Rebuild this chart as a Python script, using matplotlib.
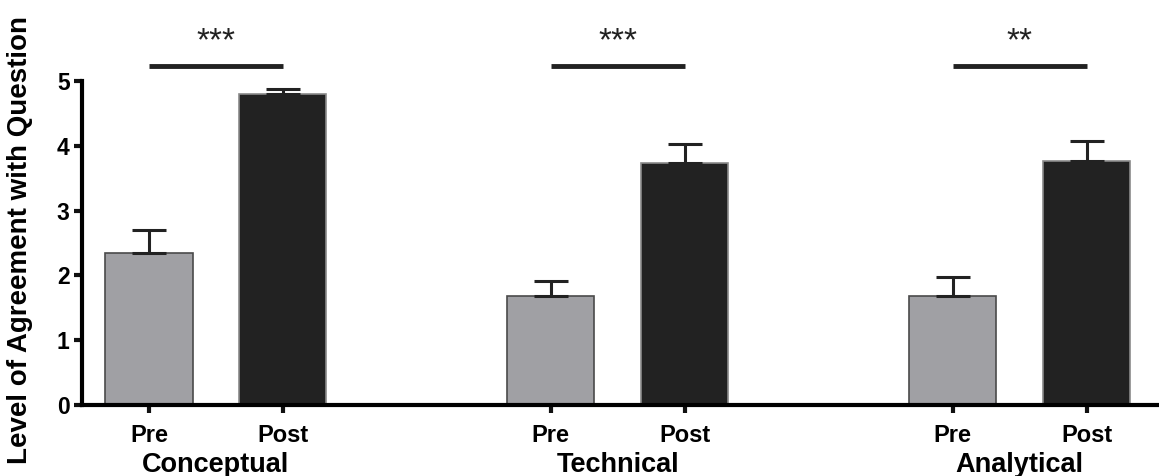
import matplotlib.pyplot as plt

plt.rcParams['font.family'] = ['Liberation Sans', 'DejaVu Sans']

groups = ["Conceptual", "Technical", "Analytical"]
phases = ["Pre", "Post"]
pre_means = [2.35, 1.68, 1.68]
pre_err = [0.35, 0.23, 0.30]
post_means = [4.80, 3.74, 3.77]
post_err = [0.08, 0.29, 0.30]
stars = ["***", "***", "**"]

pre_x = [0, 3, 6]
post_x = [1, 4, 7]

fig = plt.figure(figsize=(11.59, 4.76), dpi=100)
ax = fig.add_axes([82 / 1159, 71 / 476, 1 - 82 / 1159, 324 / 476])

ax.bar(pre_x, pre_means, width=0.65, color="#a0a0a4", edgecolor="#4a4a4a", linewidth=1.2)
ax.bar(post_x, post_means, width=0.65, color="#222222", edgecolor="#8a8a8a", linewidth=1.2)

# only the upper half of the error bars is drawn
ax.errorbar(pre_x, pre_means, yerr=[[0] * 3, pre_err], fmt="none", ecolor="#222222",
            elinewidth=2.2, capsize=12, capthick=2.2)
ax.errorbar(post_x, post_means, yerr=[[0] * 3, post_err], fmt="none", ecolor="#222222",
            elinewidth=2.2, capsize=12, capthick=2.2)

# significance lines
for i in range(3):
    ax.plot([pre_x[i], post_x[i]], [5.23, 5.23], color="#222222", lw=3.5,
            solid_capstyle="butt", clip_on=False)
    ax.text((pre_x[i] + post_x[i]) / 2, 5.6, stars[i], ha="center", va="center",
            fontsize=24, color="#222222")

ax.set_xlim(-0.5, 7.54)
ax.set_ylim(0, 5)
ax.set_yticks([0, 1, 2, 3, 4, 5])
ax.set_xticks(pre_x + post_x)
ax.set_xticklabels(["Pre"] * 3 + ["Post"] * 3, fontsize=17, fontweight="bold")
for lbl in ax.get_yticklabels():
    lbl.set_fontsize(16.5)
    lbl.set_fontweight("bold")

ax.spines["top"].set_visible(False)
ax.spines["right"].set_visible(False)
ax.spines["left"].set_linewidth(3)
ax.spines["bottom"].set_linewidth(3)
ax.tick_params(axis="both", width=3, length=6, color="#111111")
ax.tick_params(axis="x", pad=8)
ax.tick_params(axis="y", pad=3)

for i in range(3):
    ax.annotate(groups[i], xy=((pre_x[i] + post_x[i]) / 2, 0), xycoords=("data", "axes fraction"),
                xytext=(0, -34), textcoords="offset points", ha="center", va="top",
                fontsize=19.5, fontweight="bold", annotation_clip=False)

ax.set_ylabel("Level of Agreement with Question", fontsize=20, fontweight="bold")
ax.yaxis.set_label_coords(-0.0455, 0.51)

fig.savefig("out.png", dpi=100)
